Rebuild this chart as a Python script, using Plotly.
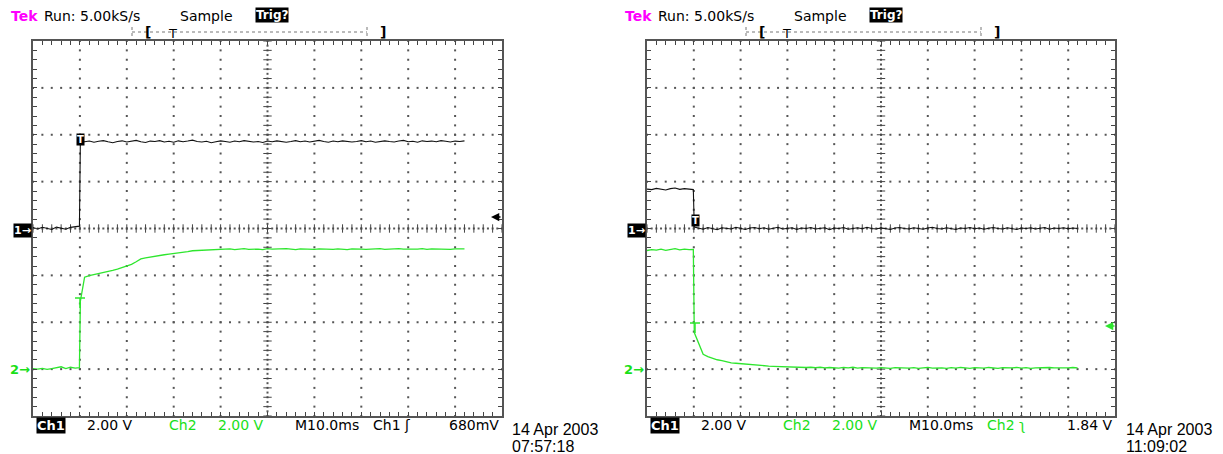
import numpy as np
import plotly.graph_objects as go

W, H = 1223, 454

# ---------------- data ----------------
# sample times in ms from the left edge of the screen (10 ms/div, trigger at 10 ms)
T = list(range(0, 10)) + [9.9, 10.1] + list(range(11, 93))

CH2_POS = -6.0  # ch2 ground marker position, in ch1 volts (-3 div at 2 V/div)

# Left capture (14 Apr 2003 07:57:18): ch1 rising step, ch2 slow rise
L_CH1 = [0.04, -0.02, 0.05, 0.00, -0.04, 0.06, 0.02, -0.03, 0.05, 0.08, 0.10,
         3.74,
         3.70, 3.73, 3.68, 3.72, 3.75, 3.70, 3.66, 3.71, 3.74, 3.69,
         3.72, 3.76, 3.70, 3.67, 3.73, 3.71, 3.75, 3.69, 3.72, 3.68,
         3.74, 3.70, 3.73, 3.77, 3.71, 3.69, 3.72, 3.66, 3.70, 3.74,
         3.71, 3.68, 3.73, 3.70, 3.75, 3.72, 3.69, 3.71, 3.67, 3.73,
         3.70, 3.74, 3.72, 3.68, 3.71, 3.75, 3.70, 3.73, 3.69, 3.72,
         3.76, 3.71, 3.68, 3.73, 3.70, 3.74, 3.72, 3.69, 3.71, 3.75,
         3.70, 3.73, 3.68, 3.72, 3.74, 3.71, 3.69, 3.73, 3.76, 3.70,
         3.72, 3.68, 3.74, 3.71, 3.73, 3.70, 3.75, 3.72, 3.69, 3.73,
         3.71, 3.74]
L_CH2 = [0.02, 0.00, 0.03, -0.01, 0.02, 0.05, 0.10, 0.02, 0.08, 0.04, 0.06,
         2.90,
         3.92, 3.99, 4.03, 4.06, 4.11, 4.15, 4.21, 4.27, 4.33, 4.38,
         4.47, 4.58, 4.70, 4.75, 4.79, 4.83, 4.84, 4.88, 4.91, 4.93,
         4.95, 4.98, 5.01, 5.05, 5.06, 5.08, 5.09, 5.11, 5.10, 5.12,
         5.11, 5.13, 5.10, 5.12, 5.14, 5.11, 5.13, 5.12, 5.10, 5.14,
         5.12, 5.13, 5.11, 5.14, 5.12, 5.10, 5.13, 5.12, 5.14, 5.11,
         5.13, 5.12, 5.14, 5.11, 5.13, 5.12, 5.10, 5.13, 5.14, 5.12,
         5.11, 5.13, 5.12, 5.14, 5.11, 5.13, 5.12, 5.14, 5.12, 5.11,
         5.13, 5.12, 5.14, 5.11, 5.13, 5.12, 5.14, 5.12, 5.11, 5.13,
         5.12, 5.13]

# Right capture (14 Apr 2003 11:09:02): ch1 falling step, ch2 fast decay
R_CH1 = [1.68, 1.66, 1.71, 1.69, 1.64, 1.70, 1.73, 1.67, 1.70, 1.68, 1.66,
         0.06,
         0.02, -0.03, 0.04, 0.00, -0.05, 0.03, 0.01, -0.02, 0.05, 0.00,
         -0.04, 0.02, 0.04, -0.01, 0.03, -0.03, 0.01, 0.05, -0.02, 0.00,
         0.03, -0.04, 0.02, 0.00, 0.04, -0.02, 0.01, 0.03, -0.05, 0.02,
         0.00, 0.04, -0.03, 0.01, 0.03, -0.01, 0.05, 0.00, -0.02, 0.03,
         0.01, -0.04, 0.02, 0.04, 0.00, -0.02, 0.03, 0.01, -0.03, 0.02,
         0.05, 0.00, -0.02, 0.03, 0.01, -0.04, 0.02, 0.00, 0.04, -0.01,
         0.02, -0.03, 0.01, 0.04, 0.00, -0.02, 0.03, 0.01, -0.04, 0.02,
         0.00, 0.03, -0.02, 0.01, 0.04, -0.03, 0.02, 0.00, 0.03, -0.01,
         0.02, 0.00]
R_CH2 = [5.06, 5.10, 5.08, 5.12, 5.07, 5.11, 5.14, 5.09, 5.12, 5.10, 5.11,
         1.56,
         1.10, 0.63, 0.53, 0.45, 0.40, 0.36, 0.31, 0.27, 0.25, 0.23,
         0.20, 0.19, 0.17, 0.16, 0.15, 0.13, 0.12, 0.11, 0.10, 0.09,
         0.10, 0.08, 0.09, 0.07, 0.08, 0.06, 0.08, 0.05, 0.07, 0.06,
         0.04, 0.07, 0.05, 0.08, 0.04, 0.06, 0.05, 0.07, 0.04, 0.06,
         0.05, 0.03, 0.06, 0.05, 0.07, 0.04, 0.06, 0.03, 0.05, 0.07,
         0.04, 0.06, 0.05, 0.03, 0.06, 0.04, 0.07, 0.05, 0.03, 0.06,
         0.05, 0.04, 0.07, 0.05, 0.03, 0.06, 0.04, 0.05, 0.07, 0.04,
         0.06, 0.03, 0.05, 0.06, 0.04, 0.07, 0.05, 0.04, 0.06, 0.05,
         0.07, 0.05]

HEADER = ["Tek", "Run: 5.00kS/s", "Sample", "Trig?"]
SCALES = ["Ch1", "2.00 V", "Ch2", "2.00 V", "M10.0ms"]
TRIG_LEFT = ("Ch1 \u0283", "680mV", "14 Apr 2003", "07:57:18")
TRIG_RIGHT = ("Ch2 \u0285", "1.84 V", "14 Apr 2003", "11:09:02")

# ---------------- styling ----------------
BLACK = "#111111"
GREEN = "#2ee62e"
GREEN_TXT = "#19e019"
MAGENTA = "#ff00ff"
GRID = "#555555"
FONT = "DejaVu Sans"
DATEFONT = "Liberation Sans"

fig = go.Figure()


def px(x):
    return x / W


def py(y):
    return 1 - y / H


annotations = []
shapes = []


def ann(x, y, text, xanchor="left", yanchor="middle", **kw):
    d = dict(xref="paper", yref="paper", x=px(x), y=py(y), text=text,
             showarrow=False, xanchor=xanchor, yanchor=yanchor)
    d.update(kw)
    annotations.append(d)


def add_scope(idx, ox, ch1, ch2, trig, trig_arrow):
    xa = "x" if idx == 1 else "x2"
    ya = "y" if idx == 1 else "y2"
    # graticule dots
    gx, gy = [], []
    for yl in (-6, -4, -2, 2, 4, 6):
        for xv in np.arange(0, 100.01, 2):
            gx.append(xv); gy.append(yl)
    for xl in (10, 20, 30, 40, 60, 70, 80, 90):
        for yv in np.arange(-8, 8.01, 0.4):
            gx.append(xl); gy.append(yv)
    for xv in np.arange(0, 100.01, 1):
        gx.append(xv); gy.append(0)
    for yv in np.arange(-8, 8.01, 0.2):
        gx.append(50); gy.append(yv)
    fig.add_trace(go.Scatter(x=gx, y=gy, xaxis=xa, yaxis=ya, mode="markers",
                             marker=dict(symbol="square", size=2, color=GRID,
                                         line=dict(width=0)),
                             hoverinfo="skip", showlegend=False))
    # centre-line ticks
    cx = list(np.arange(0, 100.01, 2))
    fig.add_trace(go.Scatter(x=cx, y=[0] * len(cx), xaxis=xa, yaxis=ya, mode="markers",
                             marker=dict(symbol="line-ns", size=6,
                                         line=dict(width=1, color="#444")),
                             hoverinfo="skip", showlegend=False))
    cy = list(np.arange(-8, 8.01, 0.4))
    fig.add_trace(go.Scatter(x=[50] * len(cy), y=cy, xaxis=xa, yaxis=ya, mode="markers",
                             marker=dict(symbol="line-ew", size=6,
                                         line=dict(width=1, color="#444")),
                             hoverinfo="skip", showlegend=False))
    # traces
    fig.add_trace(go.Scatter(x=T, y=[v + CH2_POS for v in ch2], xaxis=xa, yaxis=ya,
                             mode="lines", line=dict(color=GREEN, width=1.3),
                             showlegend=False, name="Ch2"))
    fig.add_trace(go.Scatter(x=T, y=ch1, xaxis=xa, yaxis=ya,
                             mode="lines", line=dict(color=BLACK, width=1.1),
                             showlegend=False, name="Ch1"))

    # header
    ann(9 + ox, 16, "<b>" + HEADER[0] + "</b>", font=dict(family=FONT, size=14, color=MAGENTA))
    ann(42 + ox, 16, HEADER[1], font=dict(family=FONT, size=14, color="black"))
    ann(178 + ox, 16, HEADER[2], font=dict(family=FONT, size=14, color="black"))
    ann(255 + ox, 15, "<b>" + HEADER[3] + "</b>", bgcolor="black", borderpad=0,
        font=dict(family=FONT, size=12, color="white"))
    # record bar
    shapes.append(dict(type="line", xref="paper", yref="paper", x0=px(132 + ox), x1=px(367 + ox),
                       y0=py(32), y1=py(32), line=dict(color="#777", width=1, dash="dot")))
    for xx in (132, 367):
        shapes.append(dict(type="line", xref="paper", yref="paper", x0=px(xx + ox), x1=px(xx + ox),
                           y0=py(27), y1=py(37), line=dict(color="#777", width=1, dash="dot")))
    ann(148 + ox, 32, "<b>[</b>", xanchor="center", font=dict(family=FONT, size=14, color="black"))
    ann(383 + ox, 32, "<b>]</b>", xanchor="center", font=dict(family=FONT, size=14, color="black"))
    ann(172 + ox, 33, "T", xanchor="center", font=dict(family=FONT, size=13, color="black"))

    # ground markers
    ann(32 + ox, 230, "<b>1\u2192</b>", xanchor="right", bgcolor="black", borderpad=0,
        font=dict(family=FONT, size=11, color="white"))
    ann(32 + ox, 369, "<b>2\u2192</b>", xanchor="right",
        font=dict(family=FONT, size=13, color=GREEN_TXT))

    # bottom readout
    ann(36 + ox, 425, "<b>" + SCALES[0] + "</b>", bgcolor="black", borderpad=0,
        font=dict(family=FONT, size=13, color="white"))
    ann(85 + ox, 425, SCALES[1], font=dict(family=FONT, size=14, color="black"))
    ann(167 + ox, 425, SCALES[2], font=dict(family=FONT, size=14, color=GREEN_TXT))
    ann(216 + ox, 425, SCALES[3], font=dict(family=FONT, size=14, color=GREEN_TXT))
    ann(293 + ox, 425, SCALES[4], font=dict(family=FONT, size=14, color="black"))
    ann(371 + ox, 425, trig[0], font=dict(family=FONT, size=14,
                                          color="black" if idx == 1 else GREEN_TXT))
    ann(501 + ox, 425, trig[1], xanchor="right", font=dict(family=FONT, size=14, color="black"))
    ann(510 + ox, 429, trig[2], font=dict(family=DATEFONT, size=16, color="black"))
    ann(510 + ox, 446, trig[3], font=dict(family=DATEFONT, size=16, color="black"))

    # trigger level arrow
    ax_, ay_, col = trig_arrow
    annotations.append(dict(xref="paper", yref="paper", x=px(ax_ + ox), y=py(ay_), text="",
                            showarrow=True, ax=11, ay=0, arrowhead=2, arrowsize=1.1,
                            arrowwidth=1.5, arrowcolor=col))


add_scope(1, 0, L_CH1, L_CH2, TRIG_LEFT, (491, 217, "black"))
add_scope(2, 614, R_CH1, R_CH2, TRIG_RIGHT, (1105 - 614, 326, GREEN))

# trigger markers
ann(80, 140, "<b>T</b>", xanchor="center", bgcolor="black", borderpad=0,
    font=dict(family=FONT, size=10, color="white"))
ann(695, 220, "<b>T</b>", xanchor="center", bgcolor="black", borderpad=0,
    font=dict(family=FONT, size=10, color="white"))
for (xc, yt) in ((80, 298), (695, 323)):
    shapes.append(dict(type="line", xref="paper", yref="paper", x0=px(xc - 5), x1=px(xc + 5),
                       y0=py(yt), y1=py(yt), line=dict(color=GREEN, width=1.5)))
    shapes.append(dict(type="line", xref="paper", yref="paper", x0=px(xc), x1=px(xc),
                       y0=py(yt), y1=py(yt + 10), line=dict(color=GREEN, width=1.5)))

ax_common = dict(showgrid=False, zeroline=False, showticklabels=False, ticks="inside",
                 ticklen=4, tickwidth=1, tickcolor="#444", showline=True, linecolor="#555",
                 linewidth=1.5, mirror="ticks", fixedrange=True)
ydom = [py(416), py(41)]
fig.update_layout(
    width=W, height=H, margin=dict(l=0, r=0, t=0, b=0),
    paper_bgcolor="white", plot_bgcolor="white", showlegend=False,
    xaxis=dict(domain=[px(33), px(502)], range=[0, 100], dtick=2, tick0=0, anchor="y", **ax_common),
    yaxis=dict(domain=ydom, range=[-8, 8], dtick=0.4, tick0=0, anchor="x", **ax_common),
    xaxis2=dict(domain=[px(647), px(1115)], range=[0, 100], dtick=2, tick0=0, anchor="y2", **ax_common),
    yaxis2=dict(domain=ydom, range=[-8, 8], dtick=0.4, tick0=0, anchor="x2", **ax_common),
    annotations=annotations, shapes=shapes,
)

fig.write_html("out.html", config={"displayModeBar": False},
               post_script="document.body.style.margin='0px';document.body.style.overflow='hidden';")
